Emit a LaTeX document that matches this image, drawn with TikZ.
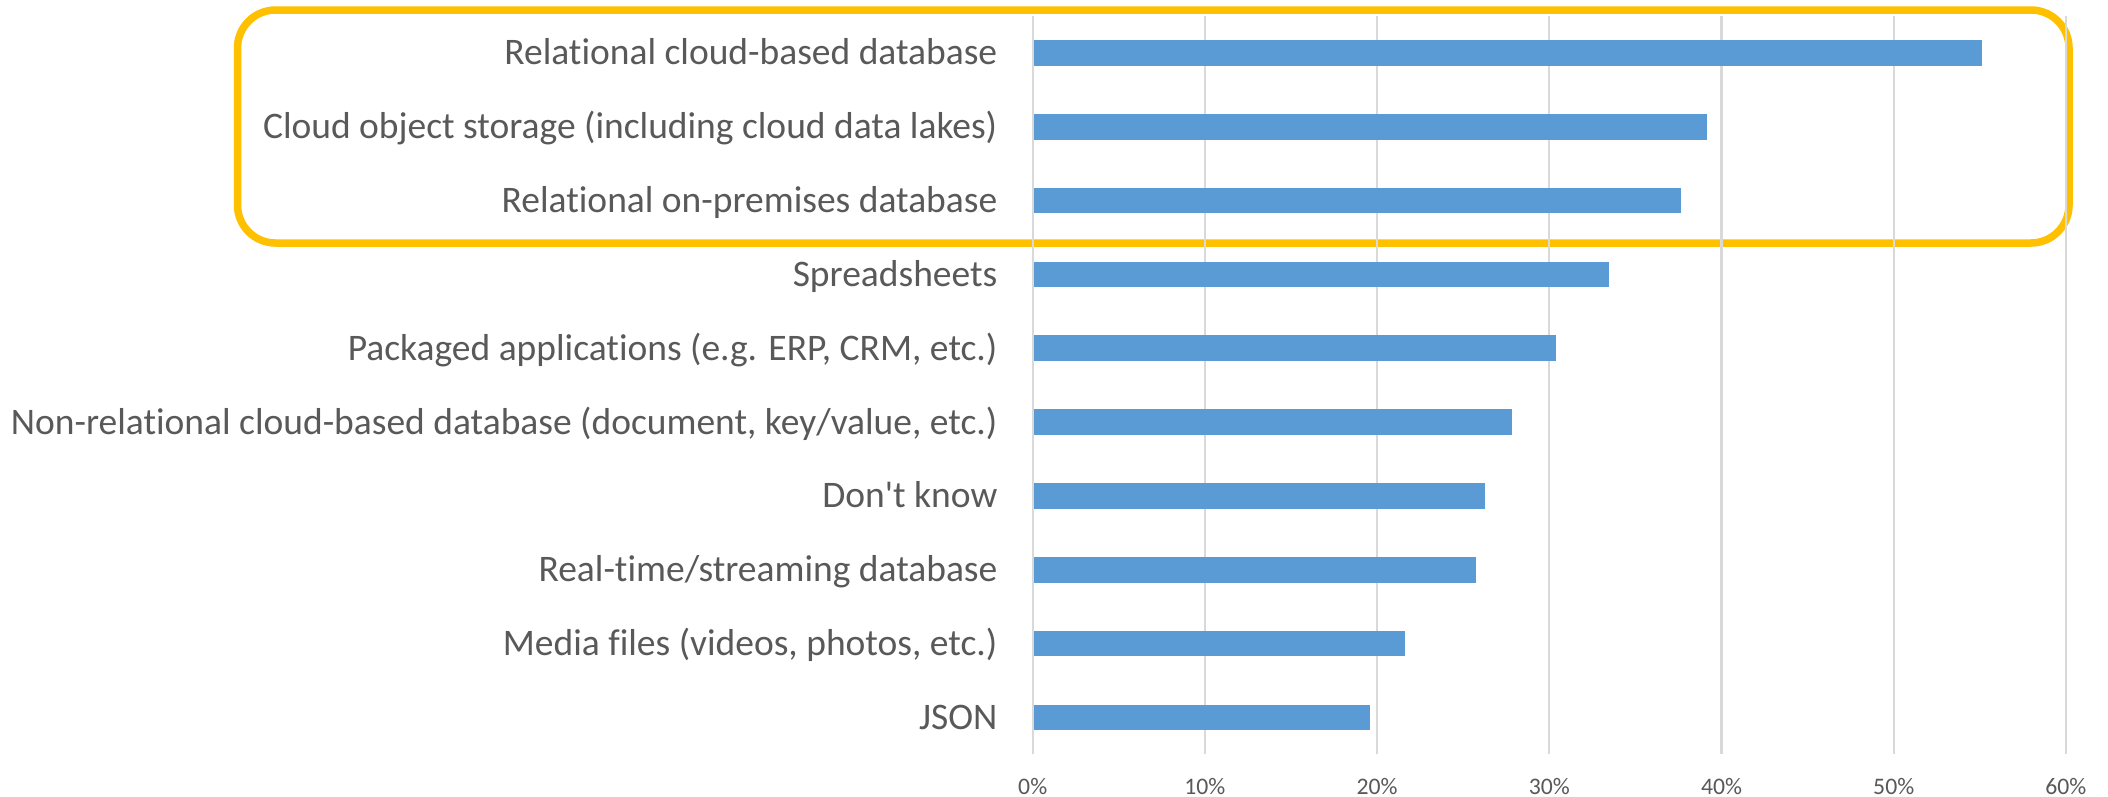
\documentclass[tikz,border=0pt]{standalone}
\usepackage{fontspec}
\setmainfont{Carlito}[Ligatures={TeXOff,NoCommon}]
\definecolor{barblue}{HTML}{5B9BD5}
\definecolor{txtgray}{HTML}{595959}
\definecolor{gridgray}{HTML}{D9D9D9}
\definecolor{hlyellow}{HTML}{FFC000}
\tikzset{
  cat/.style={anchor=base east, inner sep=0pt, text=txtgray, font=\fontsize{37.5}{40}\selectfont},
  axlab/.style={anchor=base, inner sep=0pt, text=txtgray, font=\fontsize{23.7}{26}\selectfont},
  gridln/.style={draw=gridgray, line width=2.2pt},
  barfill/.style={fill=barblue},
  hlbox/.style={draw=hlyellow, line width=7.5pt, rounded corners=38pt}
}
\begin{document}
\begin{tikzpicture}[x=1pt,y=-1pt]
\useasboundingbox (0,0) rectangle (2108,796);
\fill[white] (0,0) rectangle (2108,796);
% highlight box
\draw[hlbox] (237.5,10) rectangle (2069,243);
% gridlines
\foreach \k in {0,...,6}{
  \draw[gridln] ({1032.7+172.2*\k},16) -- ({1032.7+172.2*\k},754.4);
}
% axis labels
\node[axlab] (a0) at (1032.7,794) {0\%};
\node[axlab] (a1) at (1204.9,794) {10\%};
\node[axlab] (a2) at (1377.1,794) {20\%};
\node[axlab] (a3) at (1549.3,794) {30\%};
\node[axlab] (a4) at (1721.5,794) {40\%};
\node[axlab] (a5) at (1893.7,794) {50\%};
\node[axlab] (a6) at (2065.9,794) {60\%};
% bars: end x values
\foreach \i/\e in {0/1982, 1/1707, 2/1680.7, 3/1609.3, 4/1556, 5/1511.7, 6/1485, 7/1476, 8/1405.3, 9/1370}{
  \fill[barfill] (1033.7,{52.8+73.85*\i-12.85}) rectangle (\e,{52.8+73.85*\i+12.85});
}
% category labels
\node[cat] (c0) at (997.5,{52.8+12}) {Relational cloud-based database};
\node[cat] (c1) at (997.5,{52.8+73.85*1+12}) {Cloud object storage (including cloud data lakes)};
\node[cat] (c2) at (997.5,{52.8+73.85*2+12}) {Relational on-premises database};
\node[cat] (c3) at (997.5,{52.8+73.85*3+12}) {Spreadsheets};
\node[cat] (c4) at (997.5,{52.8+73.85*4+12}) {Packaged applications (e.g. ERP, CRM, etc.)};
\node[cat] (c5) at (997.5,{52.8+73.85*5+12}) {Non-relational cloud-based database (document, key/value, etc.)};
\node[cat] (c6) at (997.5,{52.8+73.85*6+12}) {Don't know};
\node[cat] (c7) at (997.5,{52.8+73.85*7+12}) {Real-time/streaming database};
\node[cat] (c8) at (997.5,{52.8+73.85*8+12}) {Media files (videos, photos, etc.)};
\node[cat] (c9) at (997.5,{52.8+73.85*9+12}) {JSON};
\end{tikzpicture}
\end{document}
